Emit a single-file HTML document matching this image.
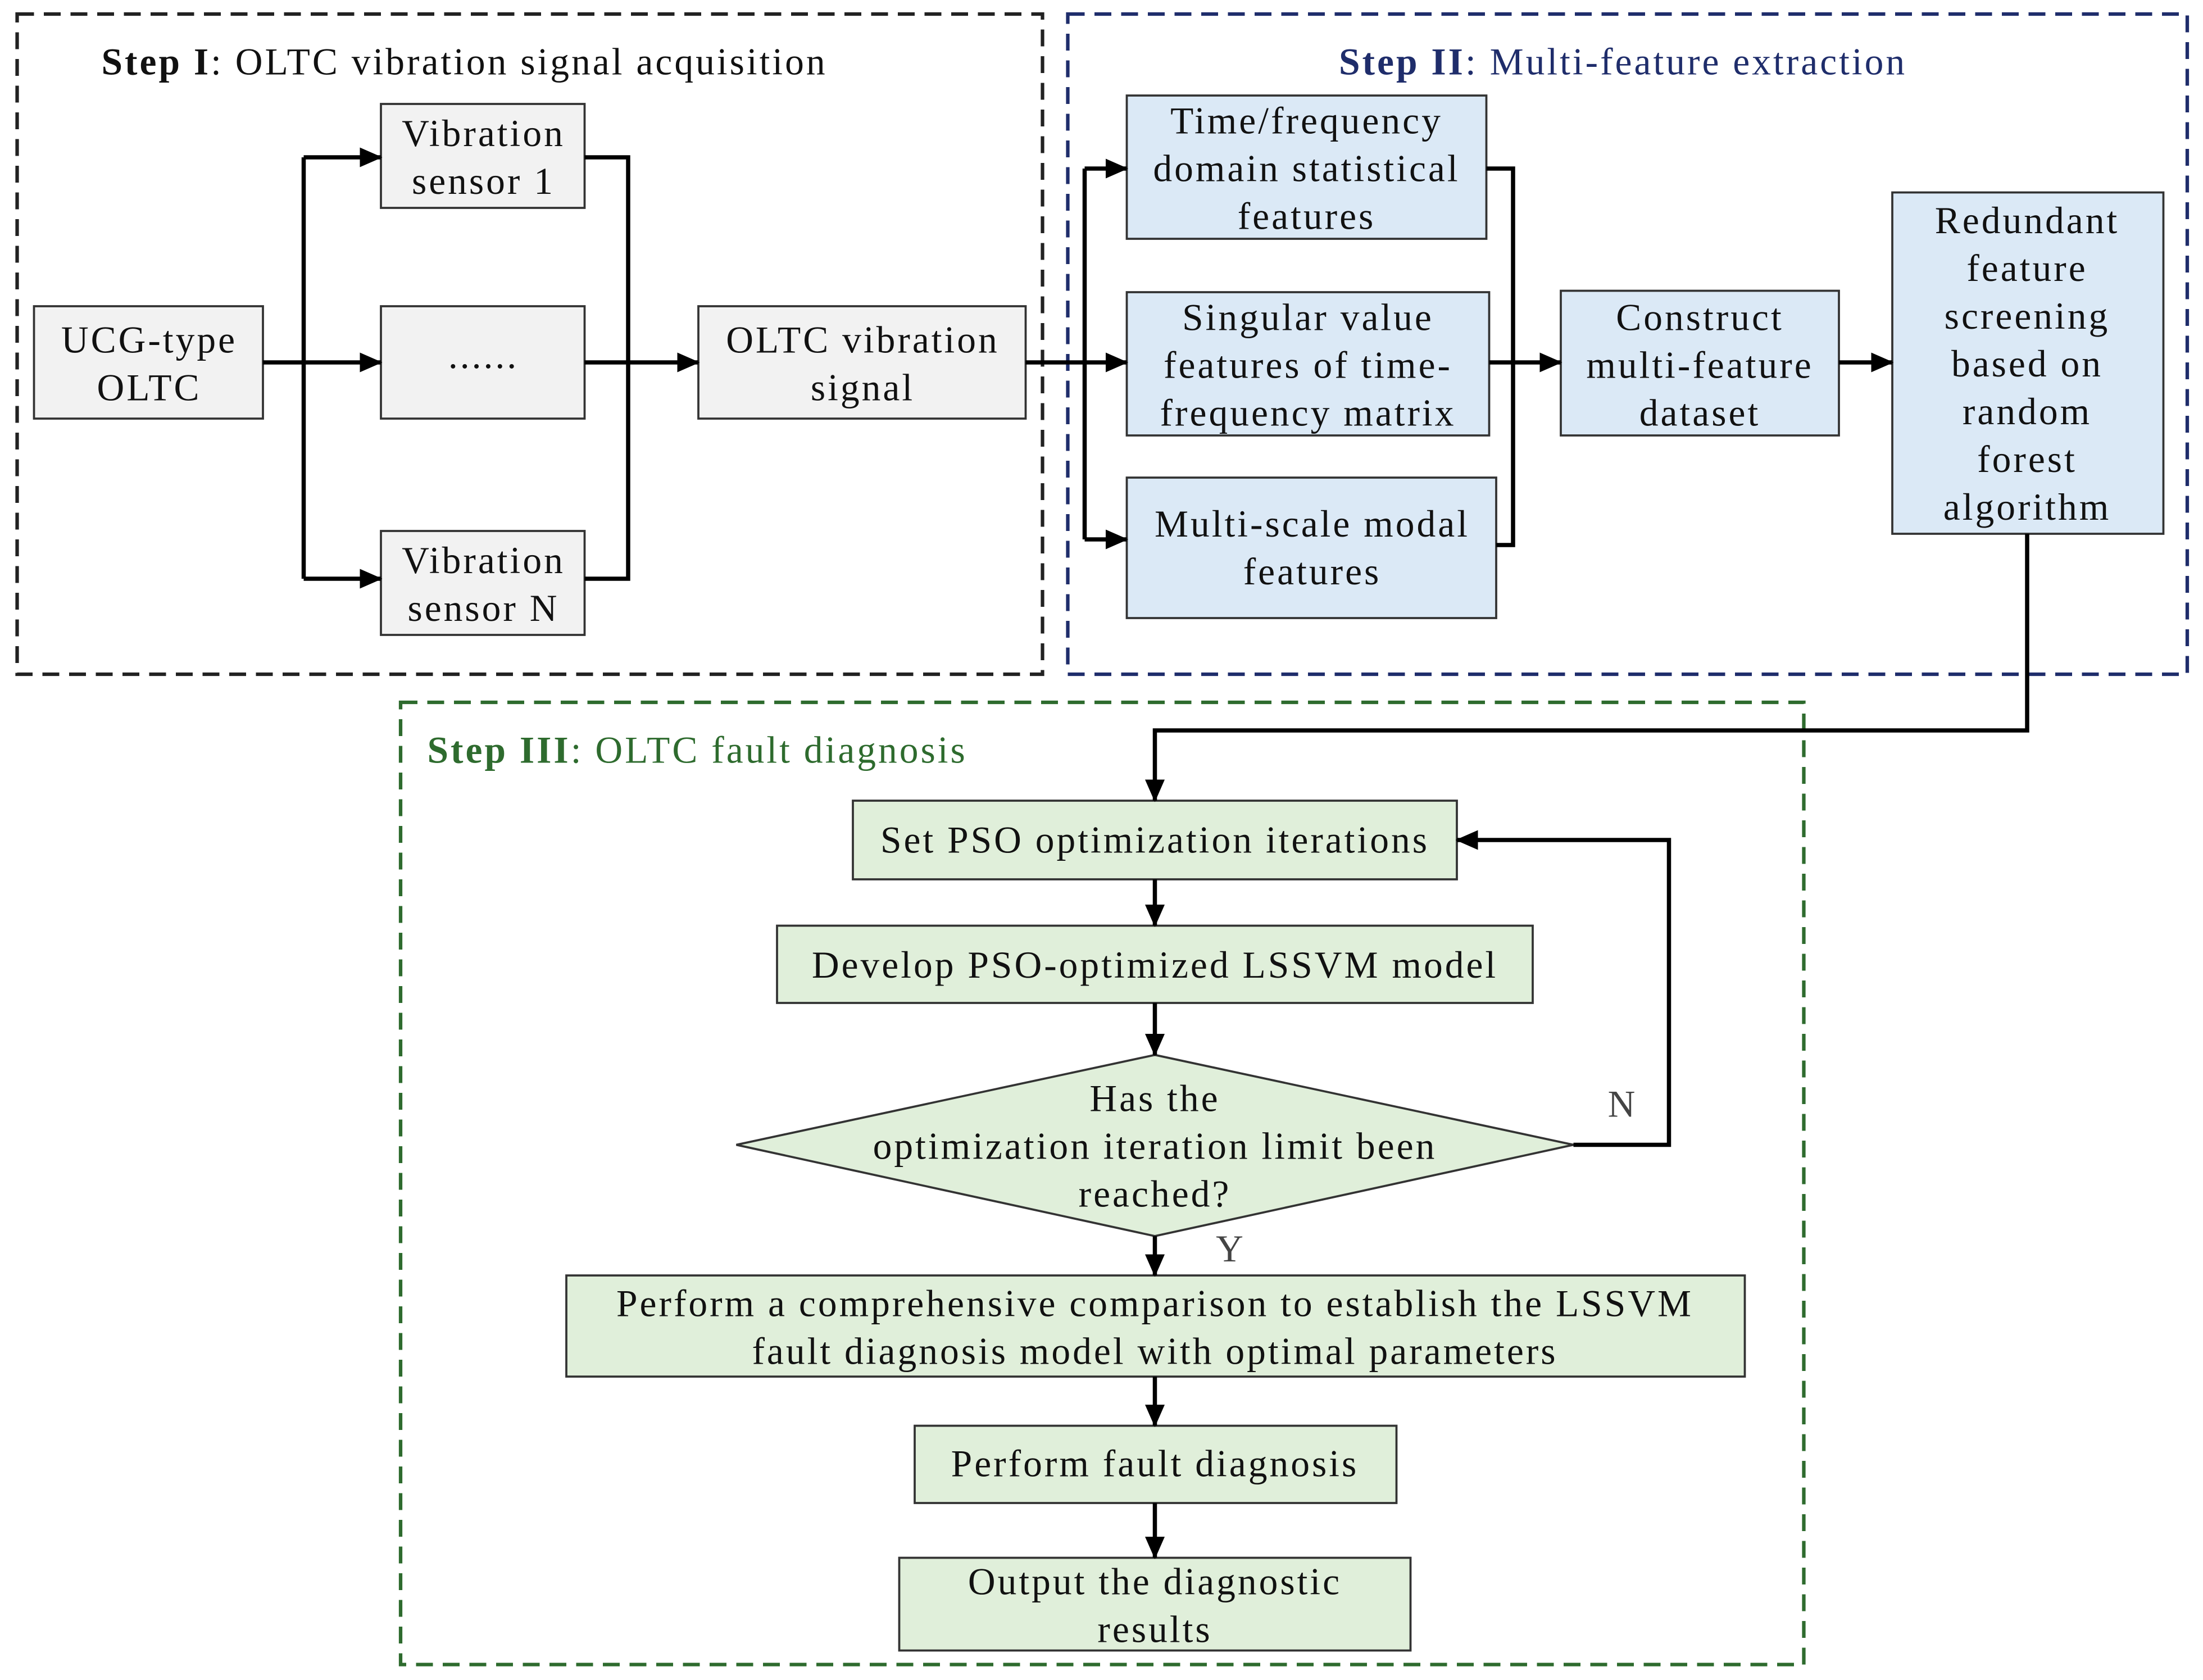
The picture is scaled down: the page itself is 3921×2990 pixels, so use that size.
<!DOCTYPE html>
<html><head><meta charset="utf-8"><style>
html,body{margin:0;padding:0;background:#fff}
svg{display:block}
text{font-family:"Liberation Serif",serif;font-size:27px;letter-spacing:1.6px;fill:#111}
</style></head><body>
<svg width="3921" height="2990" viewBox="0 0 1568 1196" xmlns="http://www.w3.org/2000/svg">
<defs>
<marker id="a" markerWidth="16" markerHeight="14" refX="15" refY="7" orient="auto" markerUnits="userSpaceOnUse" viewBox="0 0 16 14">
<path d="M0,0 L16,7 L0,14 z" fill="#000"/></marker>
</defs>
<rect width="1568" height="1196" fill="#fff"/>
<rect x="12" y="10" width="730" height="470" fill="none" stroke="#222" stroke-width="2.5" stroke-dasharray="12,7"/>
<rect x="760" y="10" width="797" height="470" fill="none" stroke="#1f2d6b" stroke-width="2.5" stroke-dasharray="12,7"/>
<rect x="285" y="500" width="999" height="685" fill="none" stroke="#2e6b2e" stroke-width="2.5" stroke-dasharray="12,7"/>
<text x="72" y="53"><tspan font-weight="bold">Step I</tspan>: OLTC vibration signal acquisition</text>
<text x="953" y="53" style="fill:#1f2d6b"><tspan font-weight="bold" style="fill:#1f2d6b">Step II</tspan>: Multi-feature extraction</text>
<text x="304" y="543" style="fill:#2e6b2e"><tspan font-weight="bold" style="fill:#2e6b2e">Step III</tspan>: OLTC fault diagnosis</text>

<g stroke="#333" stroke-width="1.5" fill="#f2f2f2">
<rect x="24" y="218" width="163" height="80"/>
<rect x="271" y="74" width="145" height="74"/>
<rect x="271" y="218" width="145" height="80"/>
<rect x="271" y="378" width="145" height="74"/>
<rect x="497" y="218" width="233" height="80"/>
</g>
<g stroke="#333" stroke-width="1.5" fill="#dbe9f6">
<rect x="802" y="68" width="256" height="102"/>
<rect x="802" y="208" width="258" height="102"/>
<rect x="802" y="340" width="263" height="100"/>
<rect x="1111" y="207" width="198" height="103"/>
<rect x="1347" y="137" width="193" height="243"/>
</g>
<g stroke="#333" stroke-width="1.5" fill="#e0efda">
<rect x="607" y="570" width="430" height="56"/>
<rect x="553" y="659" width="538" height="55"/>
<polygon points="822,751 1120,815 822,880 524,815"/>
<rect x="403" y="908" width="839" height="72"/>
<rect x="651" y="1015" width="343" height="55"/>
<rect x="640" y="1109" width="364" height="66"/>
</g>

<g text-anchor="middle">
<text x="106" y="251">UCG-type</text><text x="106" y="285">OLTC</text>
<text x="344" y="104">Vibration</text><text x="344" y="138">sensor 1</text>
<text x="344" y="262">......</text>
<text x="344" y="408">Vibration</text><text x="344" y="442">sensor N</text>
<text x="614" y="251">OLTC vibration</text><text x="614" y="285">signal</text>
<text x="930" y="95">Time/frequency</text><text x="930" y="129">domain statistical</text><text x="930" y="163">features</text>
<text x="931" y="235">Singular value</text><text x="931" y="269">features of time-</text><text x="931" y="303">frequency matrix</text>
<text x="934" y="382">Multi-scale modal</text><text x="934" y="416">features</text>
<text x="1210" y="235">Construct</text><text x="1210" y="269">multi-feature</text><text x="1210" y="303">dataset</text>
<text x="1443" y="166">Redundant</text><text x="1443" y="200">feature</text><text x="1443" y="234">screening</text><text x="1443" y="268">based on</text><text x="1443" y="302">random</text><text x="1443" y="336">forest</text><text x="1443" y="370">algorithm</text>
<text x="822" y="607">Set PSO optimization iterations</text>
<text x="822" y="696">Develop PSO-optimized LSSVM model</text>
<text x="822" y="791">Has the</text><text x="822" y="825">optimization iteration limit been</text><text x="822" y="859">reached?</text>
<text x="822" y="937">Perform a comprehensive comparison to establish the LSSVM</text>
<text x="822" y="971">fault diagnosis model with optimal parameters</text>
<text x="822" y="1051">Perform fault diagnosis</text>
<text x="822" y="1135">Output the diagnostic</text><text x="822" y="1169">results</text>
<text x="1155" y="795" style="fill:#444">N</text>
<text x="876" y="898" style="fill:#444">Y</text>
</g>

<g stroke="#000" stroke-width="3" fill="none">
<path d="M187,258 H216 M216,112 V412"/>
<path d="M216,112 H271" marker-end="url(#a)"/>
<path d="M216,258 H271" marker-end="url(#a)"/>
<path d="M216,412 H271" marker-end="url(#a)"/>
<path d="M416,112 H447 V412 H416"/>
<path d="M416,258 H497" marker-end="url(#a)"/>
<path d="M730,258 H772 M772,120 V384"/>
<path d="M772,120 H802" marker-end="url(#a)"/>
<path d="M772,258 H802" marker-end="url(#a)"/>
<path d="M772,384 H802" marker-end="url(#a)"/>
<path d="M1058,120 H1077 V388 H1065"/>
<path d="M1060,258 H1111" marker-end="url(#a)"/>
<path d="M1309,258 H1347" marker-end="url(#a)"/>
<path d="M1443,380 V520 H822 V570" marker-end="url(#a)"/>
<path d="M822,626 V659" marker-end="url(#a)"/>
<path d="M822,714 V751" marker-end="url(#a)"/>
<path d="M822,880 V908" marker-end="url(#a)"/>
<path d="M822,980 V1015" marker-end="url(#a)"/>
<path d="M822,1070 V1109" marker-end="url(#a)"/>
<path d="M1120,815 H1188 V598 H1037" marker-end="url(#a)"/>
</g>
</svg>
</body></html>
